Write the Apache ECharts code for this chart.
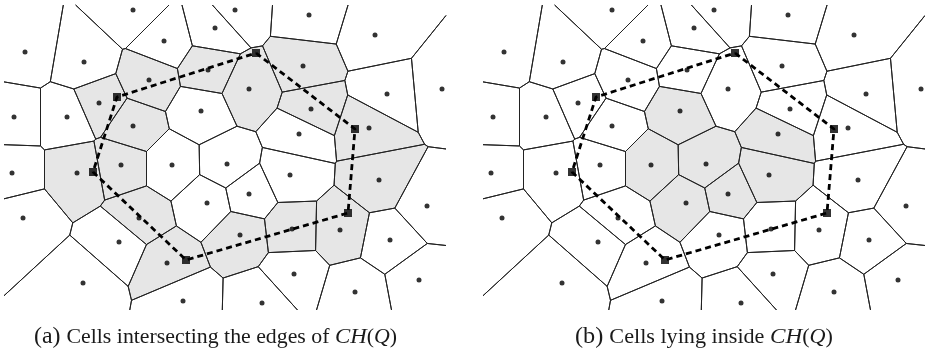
<!DOCTYPE html>
<html>
<head>
<meta charset="utf-8">
<script src="https://cdn.jsdelivr.net/npm/echarts@6/dist/echarts.min.js"></script>
<style>
  html, body { margin: 0; padding: 0; background: #fff; }
  #chart { width: 925px; height: 352px; }
</style>
</head>
<body>
<div id="chart"></div>
<script>
// Voronoi sites [x, y]
const sites = [
  [133, 10], [25, 52], [84, 62], [149, 80], [99, 103], [14, 117], [67, 117], [133, 126],
  [235, 10], [215, 28], [164, 41], [208, 70], [249, 89], [201, 111],
  [309, 15], [375, 35], [303, 66], [387, 94], [442, 89], [311, 109], [369, 128], [299, 134],
  [12, 173], [77, 173], [121, 165], [23, 218], [139, 218], [119, 242], [83, 283],
  [172, 165], [227, 164], [290, 175], [207, 203], [249, 194], [240, 235], [292, 229],
  [167, 263], [294, 274], [183, 301], [262, 303],
  [379, 180], [427, 206], [340, 230], [390, 240], [419, 280], [355, 292]
];

// Vertices of the convex hull CH(Q), in order
const hullQ = [[256, 53], [355, 129], [348, 213], [186, 260], [93, 172], [117, 97]];

// Sites whose cells intersect the hull edges (panel a)
const cellsCrossing = [3, 4, 7, 11, 12, 16, 19, 20, 23, 24, 26, 34, 35, 36, 40, 42];
// Sites whose cells lie inside the hull (panel b)
const cellsInside = [13, 21, 29, 30, 31, 32, 33];

// Caption pieces
const captionA = { tag: '(a)', text: 'Cells intersecting the edges of ', ch: 'CH', q: 'Q' };
const captionB = { tag: '(b)', text: 'Cells lying inside ', ch: 'CH', q: 'Q' };

// Drawing window of each panel, in data units
const X_MIN = 4, X_MAX = 446, Y_MIN = 5, Y_MAX = 310;

// Keep the part of a polygon that is closer to p than to q
function clipHalfPlane(poly, p, q) {
  const nx = q[0] - p[0], ny = q[1] - p[1];
  const c = (q[0] * q[0] + q[1] * q[1] - p[0] * p[0] - p[1] * p[1]) / 2;
  const out = [];
  for (let i = 0; i < poly.length; i++) {
    const a = poly[i], b = poly[(i + 1) % poly.length];
    const da = nx * a[0] + ny * a[1] - c;
    const db = nx * b[0] + ny * b[1] - c;
    if (da <= 0) out.push(a);
    if ((da < 0 && db > 0) || (da > 0 && db < 0)) {
      const t = da / (da - db);
      out.push([a[0] + t * (b[0] - a[0]), a[1] + t * (b[1] - a[1])]);
    }
  }
  return out;
}

const cells = sites.map(function (p, i) {
  let poly = [[X_MIN, Y_MIN], [X_MAX, Y_MIN], [X_MAX, Y_MAX], [X_MIN, Y_MAX]];
  sites.forEach(function (q, j) { if (j !== i) poly = clipHalfPlane(poly, p, q); });
  return poly;
});

function onFrame(a, b) {
  const e = 1e-6;
  return (Math.abs(a[0] - X_MIN) < e && Math.abs(b[0] - X_MIN) < e) ||
         (Math.abs(a[0] - X_MAX) < e && Math.abs(b[0] - X_MAX) < e) ||
         (Math.abs(a[1] - Y_MIN) < e && Math.abs(b[1] - Y_MIN) < e) ||
         (Math.abs(a[1] - Y_MAX) < e && Math.abs(b[1] - Y_MAX) < e);
}

const cellData = sites.map(function (s, i) { return [s[0], s[1], i]; });

function fillSeries(panel, shaded) {
  const set = new Set(shaded);
  return {
    type: 'custom', xAxisIndex: panel, yAxisIndex: panel, z: 1, silent: true,
    data: cellData,
    renderItem: function (params, api) {
      const i = api.value(2);
      if (!set.has(i)) return null;
      return {
        type: 'polygon',
        shape: { points: cells[i].map(function (p) { return api.coord(p); }) },
        style: { fill: '#e6e6e6', stroke: null }
      };
    }
  };
}

function edgeSeries(panel) {
  return {
    type: 'custom', xAxisIndex: panel, yAxisIndex: panel, z: 2, silent: true,
    data: cellData,
    renderItem: function (params, api) {
      const poly = cells[api.value(2)];
      const children = [];
      for (let k = 0; k < poly.length; k++) {
        const a = poly[k], b = poly[(k + 1) % poly.length];
        if (onFrame(a, b)) continue;
        const pa = api.coord(a), pb = api.coord(b);
        children.push({
          type: 'line',
          shape: { x1: pa[0], y1: pa[1], x2: pb[0], y2: pb[1] },
          style: { stroke: '#222', lineWidth: 1 }
        });
      }
      return { type: 'group', children: children };
    }
  };
}

function hullSeries(panel) {
  return [{
    type: 'line', xAxisIndex: panel, yAxisIndex: panel, z: 3, silent: true,
    data: hullQ.concat([hullQ[0]]),
    symbol: 'none',
    lineStyle: { color: '#000', width: 2.8, type: [6, 4] }
  }, {
    type: 'scatter', xAxisIndex: panel, yAxisIndex: panel, z: 5, silent: true,
    data: hullQ, symbol: 'rect', symbolSize: 8,
    itemStyle: { color: '#000' }
  }];
}

function siteSeries(panel) {
  return {
    type: 'scatter', xAxisIndex: panel, yAxisIndex: panel, z: 4, silent: true,
    data: sites, symbol: 'circle', symbolSize: 5,
    itemStyle: { color: '#000' }
  };
}

// Caption layout: measure the pieces, then stretch them to the span they occupy
const measureCtx = document.createElement('canvas').getContext('2d');
const SERIF = '"Liberation Serif", "Times New Roman", serif';
function textWidth(str, font) { measureCtx.font = font; return measureCtx.measureText(str).width; }

function caption(cap, left, right, y) {
  const pieces = [
    [cap.tag + ' ', 'normal', 23], [cap.text, 'normal', 21],
    [cap.ch, 'italic', 22], ['(', 'normal', 21],
    [cap.q, 'italic', 21], [')', 'normal', 21]
  ];
  let x = 0;
  const children = pieces.map(function (p) {
    const el = {
      type: 'text', x: x, y: 0,
      style: {
        text: p[0], fontFamily: SERIF, fontSize: p[2], fontStyle: p[1],
        fill: '#1a1a1a', verticalAlign: 'middle', align: 'left'
      }
    };
    x += textWidth(p[0], (p[1] === 'italic' ? 'italic ' : '') + p[2] + 'px ' + SERIF);
    return el;
  });
  return { type: 'group', x: left, y: y, scaleX: (right - left) / x, children: children };
}

const chart = echarts.init(document.getElementById('chart'), null, { renderer: 'canvas' });
chart.setOption({
  animation: false,
  backgroundColor: '#fff',
  grid: [
    { left: 4, top: 5, width: 442, height: 305 },
    { left: 483, top: 5, width: 442, height: 305 }
  ],
  xAxis: [0, 1].map(function (g) {
    return { type: 'value', gridIndex: g, min: X_MIN, max: X_MAX, show: false };
  }),
  yAxis: [0, 1].map(function (g) {
    return { type: 'value', gridIndex: g, min: Y_MIN, max: Y_MAX, inverse: true, show: false };
  }),
  series: [
    fillSeries(0, cellsCrossing), edgeSeries(0), siteSeries(0)
  ].concat(hullSeries(0)).concat([
    fillSeries(1, cellsInside), edgeSeries(1), siteSeries(1)
  ]).concat(hullSeries(1)),
  graphic: [
    caption(captionA, 34, 397, 337),
    caption(captionB, 575, 833, 337)
  ]
});
</script>
</body>
</html>
